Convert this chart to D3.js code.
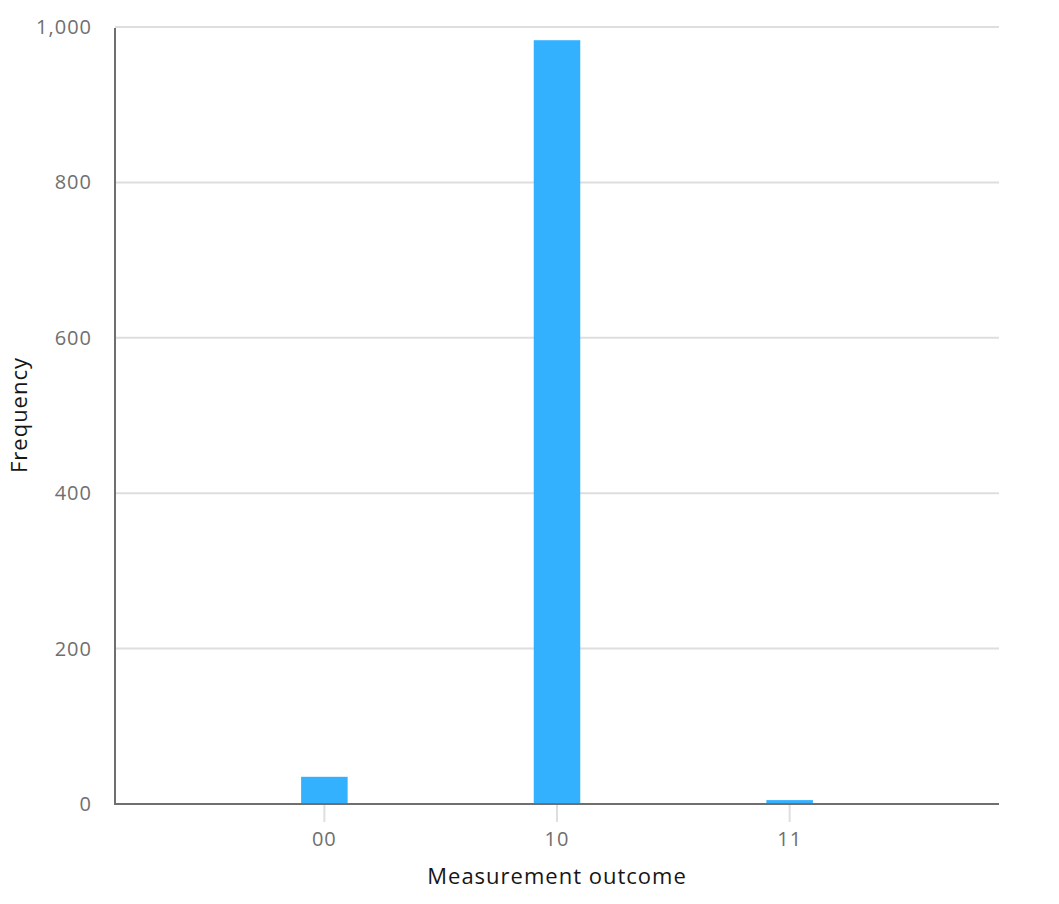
<!DOCTYPE html>
<html>
<head>
<meta charset="utf-8">
<script src="https://cdn.jsdelivr.net/npm/d3@7"></script>
<style>
  body { margin: 0; background: #fff; }
  svg text { font-family: "Open Sans", "Noto Sans", sans-serif; }
  .tick-label { fill: #6f6f6f; font-size: 20px; letter-spacing: 1px; }
  .axis-title { fill: #161616; font-size: 22px; letter-spacing: 1px; }
</style>
</head>
<body>
<div id="chart"></div>
<script>
const outcomes = ["00", "10", "11"];
const counts = [35, 983, 5];
const yTicks = [0, 200, 400, 600, 800, 1000];

const W = 1059, H = 904;
const margin = { top: 27, right: 60, bottom: 100, left: 115 };
const width = W - margin.left - margin.right;
const height = H - margin.top - margin.bottom;

const svg = d3.select("#chart")
  .append("svg")
  .attr("width", W)
  .attr("height", H);

const chart = svg.append("g")
  .attr("transform", `translate(${margin.left},${margin.top})`);

const x = d3.scaleBand()
  .domain(outcomes)
  .range([0, width])
  .padding(0.8);

const y = d3.scaleLinear()
  .domain([0, 1000])
  .range([height, 0]);

// grid lines
chart.append("g")
  .selectAll("line")
  .data(yTicks.filter(d => d > 0))
  .join("line")
  .attr("x1", 0)
  .attr("x2", width)
  .attr("y1", d => y(d))
  .attr("y2", d => y(d))
  .attr("stroke", "#dedede")
  .attr("stroke-width", 2);

// y tick labels
chart.append("g")
  .selectAll("text")
  .data(yTicks)
  .join("text")
  .attr("class", "tick-label")
  .attr("x", -23)
  .attr("y", d => y(d))
  .attr("dy", "0.35em")
  .attr("text-anchor", "end")
  .text(d => d3.format(",")(d));

// bars
chart.append("g")
  .selectAll("rect")
  .data(outcomes.map((k, i) => ({ k, v: counts[i] })))
  .join("rect")
  .attr("x", d => x(d.k))
  .attr("width", x.bandwidth())
  .attr("y", d => y(d.v))
  .attr("height", d => height - y(d.v))
  .attr("fill", "#33b1ff");

// x ticks
const xt = chart.append("g")
  .selectAll("g")
  .data(outcomes)
  .join("g")
  .attr("transform", d => `translate(${x(d) + x.bandwidth() / 2},${height})`);

xt.append("line")
  .attr("y1", 1)
  .attr("y2", 18)
  .attr("stroke", "#dedede")
  .attr("stroke-width", 2);

xt.append("text")
  .attr("class", "tick-label")
  .attr("y", 35)
  .attr("dy", "0.35em")
  .attr("text-anchor", "middle")
  .text(d => d);

// axis lines
chart.append("line")
  .attr("x1", 0).attr("x2", 0)
  .attr("y1", 1).attr("y2", height + 1)
  .attr("stroke", "#6f6f6f")
  .attr("stroke-width", 2);

chart.append("line")
  .attr("x1", 0).attr("x2", width)
  .attr("y1", height).attr("y2", height)
  .attr("stroke", "#6f6f6f")
  .attr("stroke-width", 2);

// axis titles
svg.append("text")
  .attr("class", "axis-title")
  .attr("x", margin.left + width / 2)
  .attr("y", 876)
  .attr("dy", "0.35em")
  .attr("text-anchor", "middle")
  .text("Measurement outcome");

svg.append("text")
  .attr("class", "axis-title")
  .attr("transform", "translate(19,415) rotate(-90)")
  .attr("dy", "0.35em")
  .attr("text-anchor", "middle")
  .text("Frequency");
</script>
</body>
</html>
